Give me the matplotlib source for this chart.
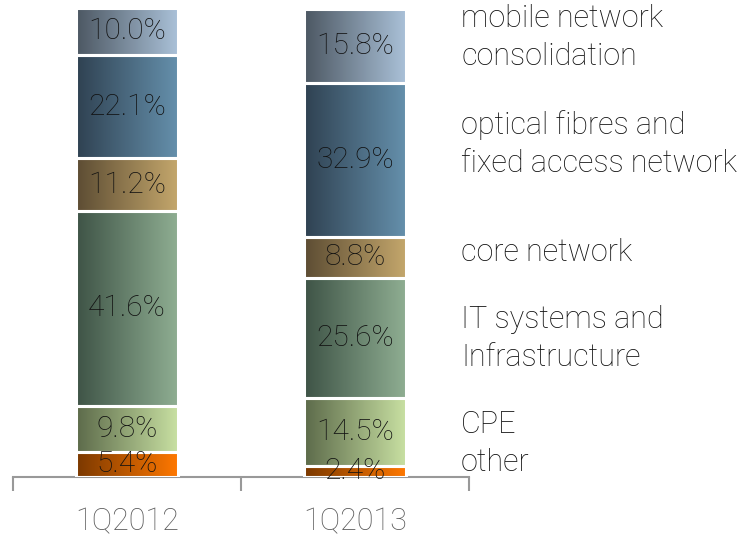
import numpy as np
import matplotlib
matplotlib.use("Agg")
import matplotlib.pyplot as plt
from matplotlib.colors import LinearSegmentedColormap

periods = ["1Q2012", "1Q2013"]
segments = ["other", "CPE", "IT systems and\nInfrastructure", "core network",
            "optical fibres and\nfixed access network", "mobile network\nconsolidation"]
values_2012 = [5.4, 9.8, 41.6, 11.2, 22.1, 10.0]
values_2013 = [2.4, 14.5, 25.6, 8.8, 32.9, 15.8]
grad_left = ["#7a3800", "#5c6a4a", "#3e5346", "#5c4c33", "#2f4151", "#4c5762"]
grad_right = ["#ff7800", "#c8e0a2", "#8fae92", "#c4a76c", "#6590ac", "#aac1d8"]
legend_y = [3.0, 11.3, 29.6, 48.0, 71.0, 93.8]

plt.rcParams['font.family'] = ['Roboto', 'DejaVu Sans']

fig = plt.figure(figsize=(7.56, 5.36), dpi=100)
ax = fig.add_axes([0.0172, 0.110, 0.6032, 0.875])

xpos = np.array([0.5, 1.5])
width = 0.447
data = np.array([values_2012, values_2013])
bottoms = np.zeros(2)
grad = np.linspace(0, 1, 256).reshape(1, -1)
for i in range(len(segments)):
    vals = data[:, i]
    bars = ax.bar(xpos, vals, width=width, bottom=bottoms, color='none',
                  edgecolor='white', linewidth=2.2, zorder=3)
    cmap = LinearSegmentedColormap.from_list(f"g{i}", [grad_left[i], grad_right[i]])
    for p, v in zip(bars, vals):
        x0, y0 = p.get_x(), p.get_y()
        ax.imshow(grad, cmap=cmap, aspect='auto', zorder=2,
                  extent=[x0, x0 + p.get_width(), y0, y0 + p.get_height()])
        ax.text(x0 + p.get_width() / 2, y0 + p.get_height() / 2, f"{v:.1f}%",
                ha='center', va='center', fontsize=21.5, color='#111111',
                fontweight='light', zorder=4)
    bottoms += vals

for lbl, ly in zip(segments, legend_y):
    ax.text(1.965, ly, lbl, ha='left', va='center', fontsize=22, color='#111111',
            fontweight='light', clip_on=False, linespacing=1.38)

ax.set_xlim(0, 2)
ax.set_ylim(0, 100.1)
for s in ['top', 'right', 'left']:
    ax.spines[s].set_visible(False)
ax.spines['bottom'].set_color('#999999')
ax.spines['bottom'].set_linewidth(1.5)
ax.set_yticks([])
ax.set_xticks([0, 1, 2])
ax.set_xticklabels([])
ax.tick_params(axis='x', which='major', length=10, width=1.5, color='#999999', direction='out')
ax.set_xticks(xpos, minor=True)
ax.set_xticklabels(periods, minor=True, fontsize=22, color='#5a5a5a', fontweight='light')
ax.tick_params(axis='x', which='minor', length=0, pad=22)
ax.set_facecolor('none')

fig.savefig("out.png", dpi=100)
